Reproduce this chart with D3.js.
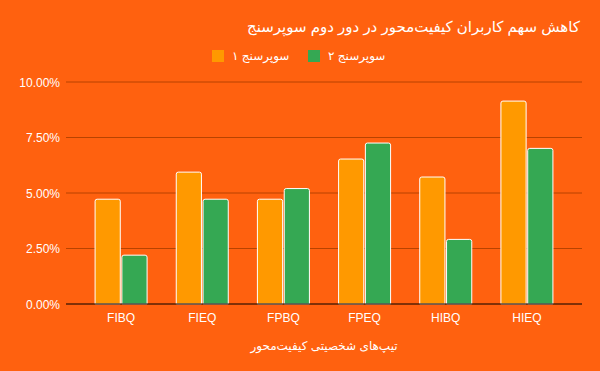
<!DOCTYPE html>
<html>
<head>
	<meta charset="utf-8">
	<title>chart</title>
	<script src="https://cdn.jsdelivr.net/npm/d3@7"></script>
	<style>
		body { margin: 0; background: #ff610f; }
		text { font-family: "Liberation Sans", Arial, "DejaVu Sans", sans-serif; fill: #fff; }
	</style>
</head>
<body>
	<svg id="chart" width="600" height="371"></svg>
	<script>
		// data
		var categories = ["FIBQ", "FIEQ", "FPBQ", "FPEQ", "HIBQ", "HIEQ"];
		var seriesNames = ["سوپرسنج ۱", "سوپرسنج ۲"];
		var survey1 = [4.72, 5.94, 4.72, 6.53, 5.72, 9.14];
		var survey2 = [2.2, 4.72, 5.2, 7.25, 2.91, 7.01];
		var yTicks = [0, 2.5, 5, 7.5, 10];
		var colors = ["#ff9900", "#35a853"];
		var title = "کاهش سهم کاربران کیفیت‌محور در دور دوم سوپرسنج";
		var xTitle = "تیپ‌های شخصیتی کیفیت‌محور";

		var left = 66, right = 582;

		var svg = d3.select("#chart");
		svg.append("rect").attr("width", 600).attr("height", 371).attr("fill", "#ff610f");

		var x = d3.scaleBand().domain(categories).range([80.5, 567.5]);
		var bw = x.bandwidth();
		var x1 = d3.scaleBand().domain([0, 1]).range([bw / 2 - 26, bw / 2 + 26]).paddingInner(0.06);
		var y = d3.scaleLinear().domain([0, 10]).range([304, 82]);

		// grid
		svg.append("g").selectAll("line").data(yTicks.slice(1)).enter().append("line")
			.attr("x1", left).attr("x2", right)
			.attr("y1", function(d) { return y(d); }).attr("y2", function(d) { return y(d); })
			.attr("stroke", "#b84300").attr("stroke-width", 1);

		var yAxis = d3.axisLeft(y).tickValues(yTicks).tickSize(0).tickPadding(6)
			.tickFormat(function(d) { return d.toFixed(2) + "%"; });
		var gy = svg.append("g").attr("transform", "translate(" + left + ",0)").call(yAxis);
		gy.select(".domain").remove();
		gy.selectAll("text").attr("font-size", 12).style("fill", "#fff").attr("dy", "0.35em");

		// bars
		var rows = categories.map(function(c, i) { return { cat: c, vals: [survey1[i], survey2[i]] }; });
		var groups = svg.append("g").selectAll("g").data(rows).enter().append("g")
			.attr("transform", function(d) { return "translate(" + x(d.cat) + ",0)"; });
		groups.selectAll("path").data(function(d) { return d.vals.map(function(v, k) { return { v: v, k: k }; }); })
			.enter().append("path")
			.attr("d", function(d) {
				var x0 = x1(d.k), w = x1.bandwidth(), top = y(d.v), bot = y(0), r = 2;
				return "M" + x0 + "," + bot + "V" + (top + r) + "Q" + x0 + "," + top + " " + (x0 + r) + "," + top +
					"H" + (x0 + w - r) + "Q" + (x0 + w) + "," + top + " " + (x0 + w) + "," + (top + r) + "V" + bot + "Z";
			})
			.attr("fill", function(d) { return colors[d.k]; })
			.attr("stroke", "#fff").attr("stroke-width", 1);

		// baseline
		svg.append("line").attr("x1", left).attr("x2", right).attr("y1", y(0)).attr("y2", y(0))
			.attr("stroke", "#000").attr("stroke-width", 1);

		var xAxis = d3.axisBottom(x).tickSize(0).tickPadding(9);
		var gx = svg.append("g").attr("transform", "translate(0," + y(0) + ")").call(xAxis);
		gx.select(".domain").remove();
		gx.selectAll("text").attr("font-size", 12).style("fill", "#fff");

		// title
		svg.append("text").attr("x", 580).attr("y", 32).attr("text-anchor", "end")
			.attr("font-size", 15).text(title);

		// legend
		var legendX = [212, 308];
		var leg = svg.append("g").selectAll("g").data(seriesNames).enter().append("g")
			.attr("transform", function(d, i) { return "translate(" + legendX[i] + ",50)"; });
		leg.append("rect").attr("width", 12).attr("height", 12).attr("fill", function(d, i) { return colors[i]; });
		leg.append("text").attr("x", 20).attr("y", 10).attr("font-size", 12).text(function(d) { return d; });

		// x title
		svg.append("text").attr("x", (left + right) / 2).attr("y", 350).attr("text-anchor", "middle")
			.attr("font-size", 12).text(xTitle);
	</script>
</body>
</html>
